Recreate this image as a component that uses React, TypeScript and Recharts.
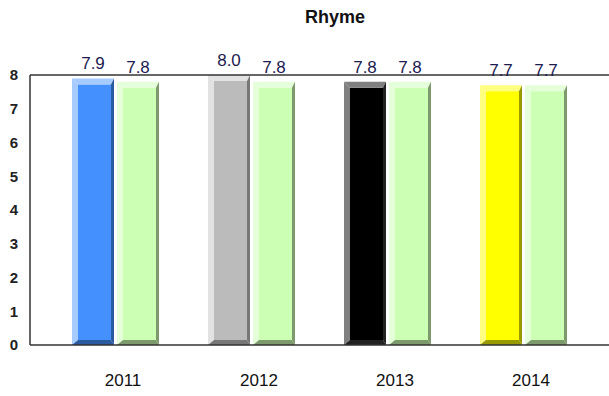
import React from 'react';
import { BarChart, Bar, XAxis, YAxis, ReferenceLine, LabelList } from 'recharts';

const years = ['2011', '2012', '2013', '2014'];
const scoresA = [7.9, 8.0, 7.8, 7.7];
const scoresB = [7.8, 7.8, 7.8, 7.7];
const yTicks = [0, 1, 2, 3, 4, 5, 6, 7, 8];
const title = 'Rhyme';

// face, light bevel, dark bevel
const paletteA = [
  ['#4590ff', '#a6cbff', '#2a5b9e'],
  ['#bbbbbb', '#e2e2e2', '#777777'],
  ['#000000', '#808080', '#222222'],
  ['#ffff00', '#ffff80', '#999900'],
];
const paletteB = ['#ccffb4', '#e4ffd9', '#7c9a6c'];

const data = years.map((year, i) => ({ year, a: scoresA[i], b: scoresB[i] }));

const bevelShape = (getColors: (i: number) => string[]) => (props: any) => {
  const { x, y, width: w, height: h, index } = props;
  if (w == null || h == null || h <= 0) return null;
  const [face, light, dark] = getColors(index);
  const L = 6, T = 6, R = 3, B = 5;
  const pts = (a: number[][]) => a.map((p) => p.join(',')).join(' ');
  return (
    <g>
      <rect x={x + L} y={y + T} width={w - L - R} height={Math.max(0, h - T - B)} fill={face} />
      <polygon points={pts([[x, y], [x + w, y], [x + w - R, y + T], [x + L, y + T]])} fill={light} />
      <polygon points={pts([[x, y], [x + L, y + T], [x + L, y + h - B], [x, y + h]])} fill={light} />
      <polygon points={pts([[x + w, y], [x + w, y + h], [x + w - R, y + h - B], [x + w - R, y + T]])} fill={dark} />
      <polygon points={pts([[x, y + h], [x + L, y + h - B], [x + w - R, y + h - B], [x + w, y + h]])} fill={dark} />
    </g>
  );
};

const fmt = (v: any) => Number(v).toFixed(1);
const labelStyle = { fontSize: 17, fill: '#1c1c50', fontFamily: 'Arial, "Liberation Sans", sans-serif' };

export default function App() {
  return (
    <div style={{ position: 'absolute', left: 0, top: 0, width: 609, height: 396, background: '#fff' }}>
      <div
        style={{
          position: 'absolute',
          left: 285,
          width: 100,
          top: 7,
          textAlign: 'center',
          fontFamily: 'Arial, "Liberation Sans", sans-serif',
          fontWeight: 'bold',
          fontSize: 18,
          color: '#111',
        }}
      >
        {title}
      </div>
      <BarChart
        width={609}
        height={396}
        data={data}
        margin={{ top: 75, right: 0, bottom: 0, left: 0 }}
        barSize={42}
        barGap={3}
      >
        <XAxis
          dataKey="year"
          height={51}
          padding={{ left: 17, right: 18 }}
          tickLine={false}
          tickSize={0}
          tickMargin={29}
          axisLine={{ stroke: '#333', strokeWidth: 1.5 }}
          tick={{ fontSize: 17, fill: '#111', fontFamily: 'Arial, "Liberation Sans", sans-serif', dx: 8 } as any}
        />
        <YAxis
          width={30}
          domain={[0, 8]}
          ticks={yTicks}
          interval={0}
          tickLine={false}
          tickSize={0}
          tickMargin={12}
          axisLine={{ stroke: '#333', strokeWidth: 1.5 }}
          tick={{ fontSize: 15, fontWeight: 'bold', fill: '#222', fontFamily: 'Arial, "Liberation Sans", sans-serif' }}
        />
        <ReferenceLine y={8} stroke="#333" strokeWidth={1.5} ifOverflow="visible" />
        <Bar dataKey="a" isAnimationActive={false} shape={bevelShape((i) => paletteA[i])}>
          <LabelList dataKey="a" position="top" offset={9} formatter={fmt} style={labelStyle} />
        </Bar>
        <Bar dataKey="b" isAnimationActive={false} shape={bevelShape(() => paletteB)}>
          <LabelList dataKey="b" position="top" offset={9} formatter={fmt} style={labelStyle} />
        </Bar>
      </BarChart>
    </div>
  );
}
